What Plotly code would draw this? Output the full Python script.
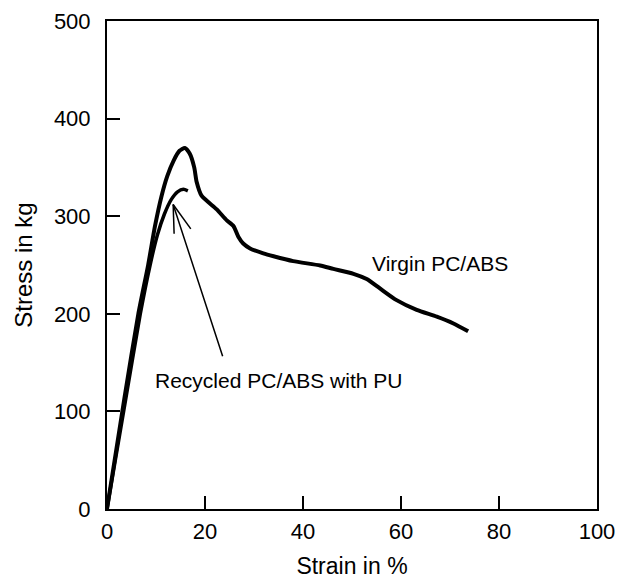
import plotly.graph_objects as go

# Stress-strain curves (strain in %, stress in kg)
virgin_strain = [0, 3.6, 6.4, 8.4, 9.8, 11.1, 12.3, 13.6, 14.8, 15.9, 16.9, 17.8, 18.3, 19.3,
                 22.4, 24.4, 25.8, 26.8, 27.8, 29.2, 31.9, 34.0, 38.0, 43.5, 46.2, 50.3,
                 53.0, 55.7, 59.1, 63.2, 67.3, 70.7, 73.7]
virgin_stress = [0, 115, 200, 250, 290, 320, 341, 357, 367, 370, 364, 350, 335, 321,
                 307, 296, 290, 279, 272, 267, 262, 259, 254, 249.5, 246, 241,
                 235.6, 226, 214, 204, 197, 190, 182]

recycled_strain = [0, 3.8, 6.8, 8.8, 10.3, 11.7, 13.1, 14.4, 15.6, 16.5]
recycled_stress = [0, 112, 200, 250, 281, 302, 317, 325, 327.5, 326]

x_ticks = [0, 20, 40, 60, 80, 100]
y_ticks = [0, 100, 200, 300, 400, 500]

# label pointer: tail near the caption, tip on the recycled curve
arrow_tail = (23.7, 155)
arrow_tip = (13.5, 312)
barb_ends = [(13.7, 282), (17.1, 287)]

FONT = "Liberation Sans, Arial, sans-serif"

fig = go.Figure()
fig.add_trace(go.Scatter(x=virgin_strain, y=virgin_stress, mode="lines",
                         line=dict(color="black", width=4, shape="spline", smoothing=0.6),
                         hoverinfo="skip", showlegend=False))
fig.add_trace(go.Scatter(x=recycled_strain, y=recycled_stress, mode="lines",
                         line=dict(color="black", width=3.5, shape="spline", smoothing=0.6),
                         hoverinfo="skip", showlegend=False))

fig.add_annotation(x=53.7, y=252, text="Virgin PC/ABS", showarrow=False,
                   xanchor="left", yanchor="middle", font=dict(size=21, color="black", family=FONT))
fig.add_annotation(x=34.9, y=132, text="Recycled PC/ABS with PU", showarrow=False,
                   xanchor="center", yanchor="middle", font=dict(size=21, color="black", family=FONT))
fig.add_annotation(x=arrow_tip[0], y=arrow_tip[1], ax=arrow_tail[0], ay=arrow_tail[1],
                   xref="x", yref="y", axref="x", ayref="y", text="", showarrow=True,
                   arrowhead=0, arrowwidth=1.5, arrowcolor="black")
for bx, by in barb_ends:
    fig.add_shape(type="line", x0=arrow_tip[0], y0=arrow_tip[1], x1=bx, y1=by,
                  xref="x", yref="y", line=dict(color="black", width=1.5))

axis_common = dict(showgrid=False, zeroline=False, showline=True, linecolor="black",
                   linewidth=2, mirror=True, ticks="inside", ticklen=13, tickwidth=1.5,
                   tickcolor="black", tickfont=dict(size=22, color="black", family=FONT))

fig.update_xaxes(range=[0, 100], tickvals=x_ticks, ticktext=[str(v) for v in x_ticks],
                 ticklabelstandoff=2,
                 title=dict(text="Strain in %", font=dict(size=23, color="black", family=FONT),
                            standoff=14),
                 **axis_common)
fig.update_yaxes(range=[0, 500], tickvals=y_ticks, ticktext=[str(v) for v in y_ticks],
                 ticklabelstandoff=10,
                 title=dict(text="Stress in kg", font=dict(size=24, color="black", family=FONT),
                            standoff=14),
                 **axis_common)

fig.update_layout(width=631, height=583, margin=dict(l=107, r=34, t=21, b=74, autoexpand=False),
                  plot_bgcolor="white", paper_bgcolor="white",
                  font=dict(family=FONT, color="black"))

fig.write_html("out.html")
